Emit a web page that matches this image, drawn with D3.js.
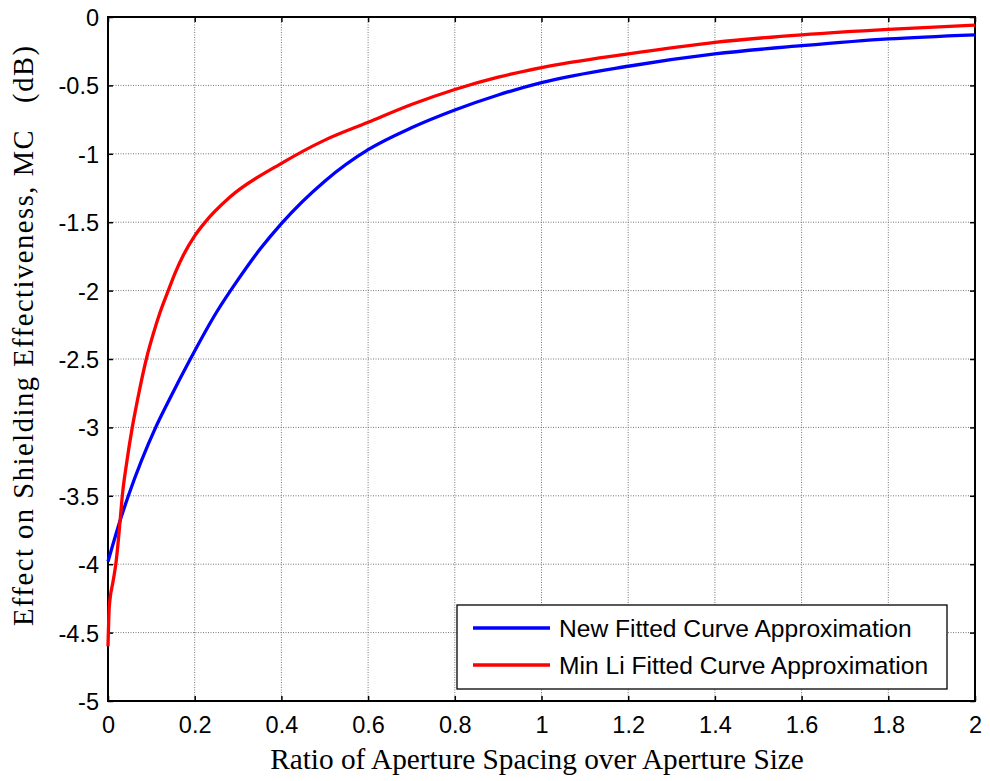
<!DOCTYPE html>
<html><head><meta charset="utf-8">
<script src="https://cdn.jsdelivr.net/npm/d3@7"></script>
<style>body{margin:0;background:#fff}svg{display:block}</style>
</head><body>
<svg id="c" width="990" height="781"></svg>
<script>
const xTicks = [0,0.2,0.4,0.6,0.8,1,1.2,1.4,1.6,1.8,2];
const yTicks = [0,-0.5,-1,-1.5,-2,-2.5,-3,-3.5,-4,-4.5,-5];
const seriesNames = ["New Fitted Curve Approximation","Min Li Fitted Curve Approximation"];
const seriesColors = ["#0000ff","#ff0000"];
const newX = [0,0.028,0.047,0.11,0.141,0.19,0.25,0.3,0.35,0.4,0.5,0.6,0.7,0.8,0.9,1.0,1.2,1.4,1.6,1.8,2.0];
const newY = [-3.98,-3.68,-3.5,-3.0,-2.8,-2.5,-2.16,-1.92,-1.7,-1.51,-1.2,-0.97,-0.81,-0.68,-0.57,-0.48,-0.36,-0.27,-0.21,-0.16,-0.13];
const liX = [0,0.003,0.012,0.018,0.028,0.033,0.043,0.056,0.068,0.09,0.105,0.12,0.139,0.155,0.174,0.2,0.224,0.28,0.4,0.5,0.6,0.7,0.8,0.9,1.0,1.2,1.4,1.6,1.8,2.0];
const liY = [-4.6,-4.31,-4.12,-4.0,-3.68,-3.5,-3.26,-3.0,-2.8,-2.48,-2.31,-2.16,-2.0,-1.87,-1.74,-1.6,-1.5,-1.32,-1.07,-0.9,-0.77,-0.64,-0.53,-0.44,-0.37,-0.27,-0.185,-0.13,-0.09,-0.06];

const svg = d3.select("#c");
const L=108, R=975, T=17, B=701;
const x = d3.scaleLinear().domain([0,2]).range([L,R]);
const y = d3.scaleLinear().domain([-5,0]).range([B,T]);

// grid
const g = svg.append("g");
g.selectAll("line.gx").data(xTicks.slice(1,-1)).join("line")
  .attr("x1",d=>x(d)).attr("x2",d=>x(d)).attr("y1",T).attr("y2",B)
  .attr("stroke","#777").attr("stroke-width",1).attr("stroke-dasharray","1,1.5");
g.selectAll("line.gy").data(yTicks.slice(1,-1)).join("line")
  .attr("y1",d=>y(d)).attr("y2",d=>y(d)).attr("x1",L).attr("x2",R)
  .attr("stroke","#777").attr("stroke-width",1).attr("stroke-dasharray","1,1.5");

// axes
const fontTick = "Liberation Sans, Arial, sans-serif";
const xa = d3.axisBottom(x).tickValues(xTicks).tickFormat(d3.format("")).tickSizeInner(-5).tickSizeOuter(0);
const ya = d3.axisLeft(y).tickValues(yTicks).tickFormat(d=>d===0?"0":String(d)).tickSizeInner(-5).tickSizeOuter(0);
const gx = svg.append("g").attr("transform",`translate(0,${B})`).call(xa);
const gy = svg.append("g").attr("transform",`translate(${L},0)`).call(ya);
svg.append("g").attr("transform",`translate(0,${T})`).call(d3.axisTop(x).tickValues(xTicks).tickFormat("").tickSizeInner(-5).tickSizeOuter(0));
svg.append("g").attr("transform",`translate(${R},0)`).call(d3.axisRight(y).tickValues(yTicks).tickFormat("").tickSizeInner(-5).tickSizeOuter(0));
svg.selectAll(".domain").remove();
svg.selectAll(".tick line").attr("stroke","#000").attr("stroke-width",1.5);
[gx,gy].forEach(a=>a.selectAll("text").attr("font-family",fontTick).attr("font-size",23.5).attr("fill","#000"));
gx.selectAll("text").attr("y",32).attr("dy",0);
gy.selectAll("text").attr("x",-9).attr("dy","0.36em");

// box
svg.append("rect").attr("x",L).attr("y",T).attr("width",R-L).attr("height",B-T)
  .attr("fill","none").attr("stroke","#000").attr("stroke-width",2);

// lines
const line = d3.line().x(d=>x(d[0])).y(d=>y(d[1])).curve(d3.curveMonotoneX);
const data = [newX.map((v,i)=>[v,newY[i]]), liX.map((v,i)=>[v,liY[i]])];
svg.selectAll("path.s").data(data).join("path").attr("class","s")
  .attr("d",line).attr("fill","none").attr("stroke",(d,i)=>seriesColors[i]).attr("stroke-width",3.3);

// legend
const lg = svg.append("g");
lg.append("rect").attr("x",457).attr("y",605).attr("width",490).attr("height",84)
  .attr("fill","#fff").attr("stroke","#000").attr("stroke-width",1.3);
seriesNames.forEach((n,i)=>{
  const yy = 628 + i*37;
  lg.append("line").attr("x1",473).attr("x2",550).attr("y1",yy).attr("y2",yy)
    .attr("stroke",seriesColors[i]).attr("stroke-width",3.3);
  lg.append("text").attr("x",559).attr("y",yy).attr("dy","0.36em")
    .attr("font-family",fontTick).attr("font-size",24.6).attr("fill","#000").text(n);
});

// axis labels
svg.append("text").attr("x",537).attr("y",769).attr("text-anchor","middle")
  .attr("font-family","Liberation Serif, Times New Roman, serif").attr("font-size",29.3).attr("fill","#000")
  .text("Ratio of Aperture Spacing over Aperture Size");
svg.append("text").attr("transform",`translate(33,336) rotate(-90)`).attr("text-anchor","middle")
  .attr("font-family","Liberation Serif, Times New Roman, serif").attr("font-size",28.5).attr("fill","#000")
  .attr("textLength",580).attr("lengthAdjust","spacing")
  .style("white-space","pre")
  .text("Effect on Shielding Effectiveness, MC   (dB)");
</script>
</body></html>
